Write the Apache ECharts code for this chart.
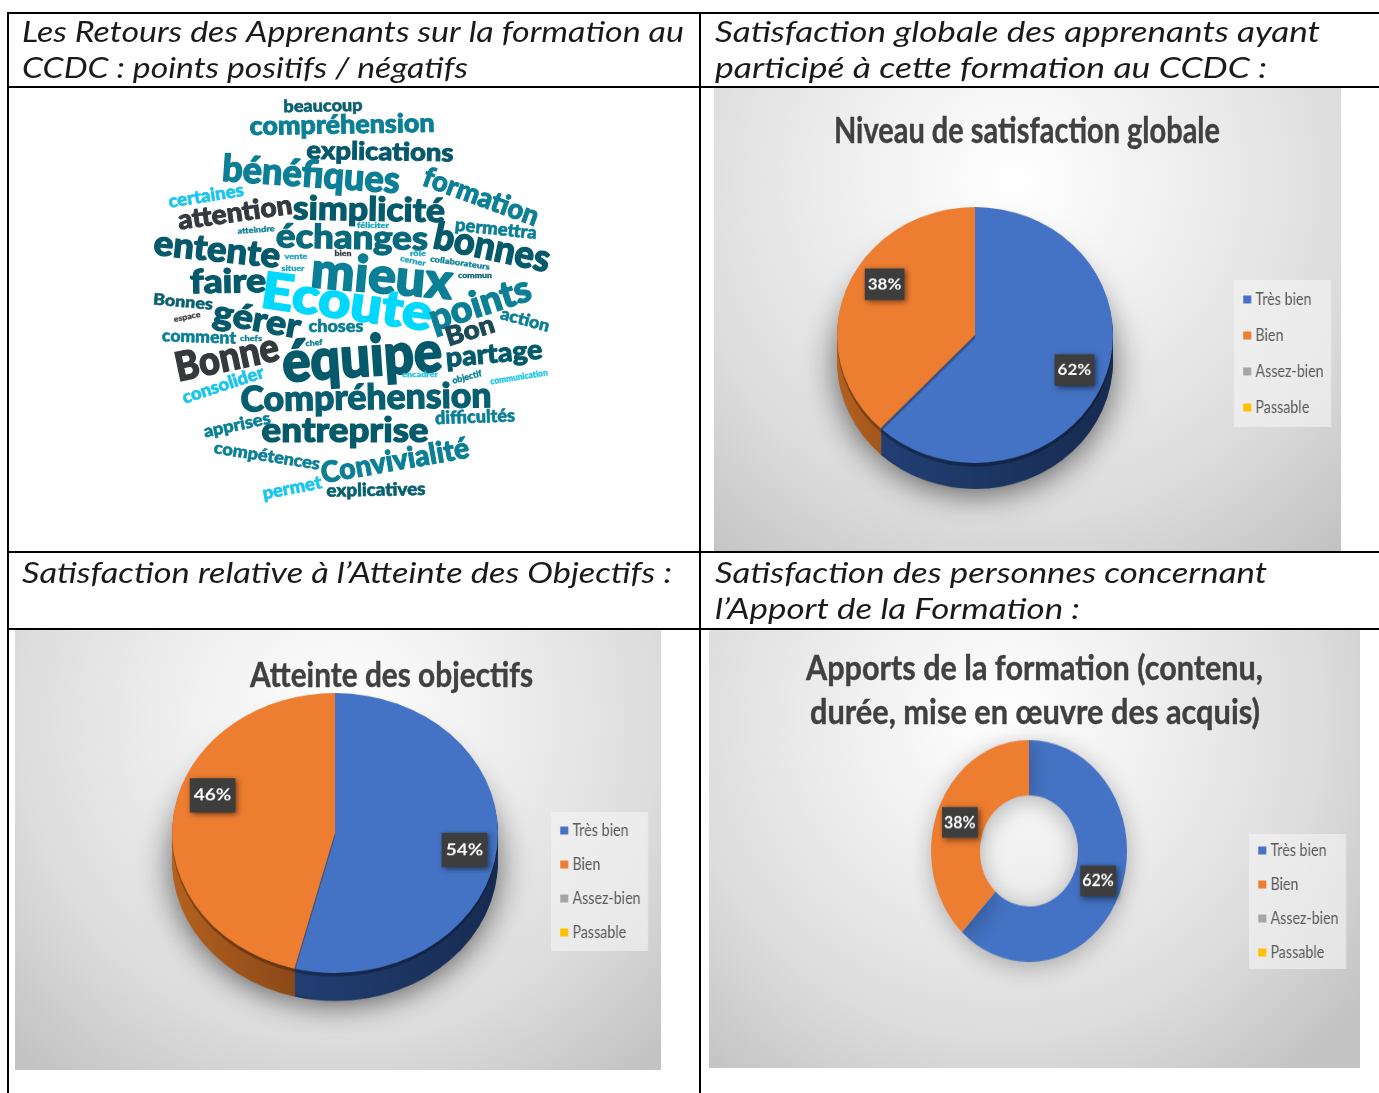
<!DOCTYPE html>
<html>
<head>
<meta charset="utf-8">
<title>Retours des apprenants</title>
<script src="https://cdn.jsdelivr.net/npm/echarts@6/dist/echarts.min.js"></script>
<style>
html, body { margin: 0; padding: 0; background: #fff; }
#page { position: relative; width: 1379px; height: 1093px; overflow: hidden; }
#main { position: absolute; left: 0; top: 0; width: 1379px; height: 1093px; }
#legends { position: absolute; left: 0; top: 0; height: 1093px; transform-origin: 0 0; }
.pie { position: absolute; }
</style>
</head>
<body>
<div id="page">
  <div id="main"></div>
  <div id="pieGlobal" class="pie"></div>
  <div id="pieObjectifs" class="pie"></div>
  <div id="pieApports" class="pie"></div>
  <div id="legends"></div>
</div>
<script>
// chart data
const categories = ['Très bien', 'Bien', 'Assez-bien', 'Passable'];
const globalValues = [62, 38, 0, 0];
const objectifsValues = [54, 46, 0, 0];
const apportsValues = [62, 38, 0, 0];
const colors = ['#4472c4', '#ed7d31', '#a5a5a5', '#ffc000'];

const headerTexts = [
  'Les Retours des Apprenants sur la formation au',
  'CCDC : points positifs / négatifs',
  'Satisfaction globale des apprenants ayant',
  'participé à cette formation au CCDC :',
  'Satisfaction relative à l’Atteinte des Objectifs :',
  'Satisfaction des personnes concernant',
  'l’Apport de la Formation :'
];
// x, y centre line, width
const headerLayout = [
  [22, 33, 662], [22, 69, 446], [715, 33, 605], [715, 69, 552],
  [22, 574, 650], [715, 574, 552], [715, 610, 365]
];

const titleTexts = [
  'Niveau de satisfaction globale',
  'Atteinte des objectifs',
  'Apports de la formation (contenu,',
  'durée, mise en œuvre des acquis)'
];
const titleLayout = [
  [834, 131, 386, 36], [250, 676, 283, 34], [806, 669, 457, 35], [810, 713, 450, 35]
];

const cloudWords = [
  'beaucoup', 'compréhension', 'explications', 'bénéfiques', 'formation', 'certaines',
  'attention', 'simplicité', 'permettra', 'échanges', 'atteindre', 'féliciter', 'bonnes',
  'entente', 'vente', 'bien', 'rôle', 'cerner', 'collaborateurs', 'commun', 'situer',
  'faire', 'mieux', 'Ecoute', 'points', 'action', 'Bonnes', 'espace', 'gérer', 'choses',
  'Bon', 'comment', 'chefs', 'chef', 'Bonne', 'équipe', 'partage', 'encadrer', 'objectif',
  'communication', 'consolider', 'Compréhension', 'difficultés', 'apprises', 'entreprise',
  'compétences', 'Convivialité', 'permet', 'explicatives'
];
// centre x, centre y, width, font size, degrees clockwise, colour
const D = '#045a6b', M = '#0a7f96', C = '#19c5ec', G = '#33393c', L = '#1ba3bd';
const cloudLayout = [
  [323, 106, 79, 17, -1, '#0a5f70'], [342, 125, 185, 26, -1, M], [380, 152, 147, 25, 1, '#05586a'],
  [311, 175, 178, 37, 4, M], [481, 197, 121, 28, 20, M], [206, 196, 76, 18, -9, C],
  [235, 213, 115, 27, -8, G], [369, 210, 152, 33, 1, D], [496, 229, 82, 18, 6, M],
  [352, 238, 152, 33, 1, '#086a7d'], [256, 230, 37, 8, -4, M], [373, 225, 32, 8, 0, L],
  [492, 248, 118, 38, 12, D], [217, 250, 127, 35, 6, D], [296, 256, 23, 8, 0, L],
  [343, 253, 17, 8, 0, G], [418, 253, 16, 8, 0, L], [413, 261, 26, 8, 12, L],
  [460, 263, 60, 8, 8, M], [475, 275, 34, 8, 0, '#0a6070'], [293, 268, 23, 8, 0, L],
  [228, 282, 76, 33, -1, D], [382, 277, 142, 50, 5, M], [347, 303, 172, 50, 8, '#00d8ff'],
  [480, 304, 105, 37, -18, M], [525, 320, 50, 17, 15, M], [183, 302, 60, 16, 5, '#0a5f70'],
  [187, 317, 27, 8, -12, '#444444'], [257, 320, 88, 34, 10, D], [336, 327, 55, 17, 0, M],
  [470, 331, 50, 26, -17, '#1b4a56'], [199, 337, 74, 17, 2, M], [251, 338, 22, 8, 0, M],
  [314, 343, 17, 8, -5, M], [227, 358, 105, 40, -12, G], [362, 358, 160, 57, -4, D],
  [494, 354, 97, 27, -5, D], [420, 374, 36, 8, 0, C], [467, 377, 30, 9, -15, M],
  [519, 377, 58, 9, -9, C], [223, 385, 85, 18, -18, C], [366, 398, 251, 35, -1, '#065f70'],
  [475, 417, 80, 18, -2, M], [237, 425, 68, 17, -12, M], [345, 431, 167, 34, 0, D],
  [267, 456, 107, 17, 9, M], [395, 461, 150, 29, -10, M], [292, 488, 60, 18, -11, C],
  [376, 490, 99, 18, -1, '#065f70']
];

const measure = document.createElement('canvas').getContext('2d');
function fitted(text, font, x, y, width, rot, fill, align, fatten) {
  measure.font = font;
  const style = { text: text, font: font, fill: fill, align: align, verticalAlign: 'middle' };
  if (fatten) {
    style.stroke = fill;
    style.lineWidth = fatten;
    style.lineJoin = 'round';
  }
  return {
    type: 'text', x: x, y: y, z: 3, silent: true,
    rotation: -(rot || 0) * Math.PI / 180,
    scaleX: width / measure.measureText(text).width,
    style: style
  };
}

function chartBg(x, y, w, h, cx, cy, r) {
  return {
    type: 'rect', z: 1, silent: true,
    shape: { x: x, y: y, width: w, height: h },
    style: {
      fill: new echarts.graphic.RadialGradient(cx, cy, r, [
        { offset: 0, color: '#ffffff' },
        { offset: 0.3, color: '#f1f1f1' },
        { offset: 0.7, color: '#dcdcdc' },
        { offset: 1, color: '#c3c3c3' }
      ])
    }
  };
}
function tableLine(x1, y1, x2, y2) {
  return {
    type: 'line', z: 2, silent: true,
    shape: { x1: x1, y1: y1, x2: x2, y2: y2 },
    style: { stroke: '#000', lineWidth: 2 }
  };
}

const graphics = [
  chartBg(714, 88, 627, 463, 0.48, 0.2, 1.05),
  chartBg(15, 630, 646, 440, 0.5, 0.2, 1.05),
  chartBg(709, 630, 651, 438, 0.45, 0.2, 1.05),
  tableLine(8, 13, 1379, 13), tableLine(8, 87, 1379, 87),
  tableLine(8, 552, 1379, 552), tableLine(8, 629, 1379, 629),
  tableLine(8, 12, 8, 1093), tableLine(700, 12, 700, 1093)
];
headerTexts.forEach((t, i) => {
  const h = headerLayout[i];
  graphics.push(fitted(t, 'italic 400 29px Lato', h[0], h[1], h[2], 0, '#1a1a1a', 'left'));
});
titleTexts.forEach((t, i) => {
  const h = titleLayout[i];
  graphics.push(fitted(t, 'bold ' + h[3] + 'px Lato', h[0], h[1], h[2], 0, '#404040', 'left', 0.4));
});
cloudWords.forEach((w, i) => {
  const c = cloudLayout[i];
  graphics.push(fitted(w, '900 ' + c[3] + 'px Lato', c[0], c[1], c[2], c[4], c[5], 'center', c[3] * 0.035));
});

let myChart = echarts.init(document.getElementById('main'));
myChart.setOption({ animation: false, graphic: graphics });

// legend text in the picture is condensed, so this layer is squeezed sideways
const legendSqueeze = 0.84;
const legendBox = document.getElementById('legends');
legendBox.style.width = (1379 / legendSqueeze) + 'px';
legendBox.style.transform = 'scaleX(' + legendSqueeze + ')';

function legendAt(left, top, gap, padV) {
  return {
    orient: 'vertical', left: left / legendSqueeze, top: top, icon: 'rect',
    itemWidth: 9.5, itemHeight: 8, itemGap: gap,
    padding: [padV, 9, padV, 11],
    backgroundColor: 'rgba(243,243,243,0.65)',
    selectedMode: false,
    data: categories,
    textStyle: { fontFamily: 'Lato', fontSize: 17, color: '#595959', height: 16, lineHeight: 16 }
  };
}
let legendChart = echarts.init(legendBox);
legendChart.setOption({
  animation: false,
  color: colors,
  legend: [legendAt(1234, 280, 19, 11), legendAt(551, 812, 17, 10), legendAt(1249, 834, 17, 8)],
  series: [{
    type: 'pie', silent: true, radius: [0, 0.01], center: [-50, -50],
    label: { show: false },
    data: categories.map((n, i) => ({ name: n, value: globalValues[i] }))
  }]
});

function sideGradient(a, b) {
  return new echarts.graphic.LinearGradient(0, 0, 1, 0, [
    { offset: 0, color: a }, { offset: 1, color: b }
  ]);
}

// elliptical pie: a round ECharts pie in a box squeezed with a css scale
function drawPie(id, values, o) {
  const pad = 70;
  const size = 2 * (o.rx + pad);
  const sy = o.ry / o.rx;
  const el = document.getElementById(id);
  el.style.width = size + 'px';
  el.style.height = size + 'px';
  el.style.left = (o.cx - size / 2) + 'px';
  el.style.top = (o.cy - size / 2) + 'px';
  el.style.transform = 'scale(1,' + sy + ')';

  const series = [];
  const names = categories.map((n, i) => ({ name: n, value: values[i] }));
  for (let d = o.depth; d > 0; d -= 2) {
    series.push({
      type: 'pie', silent: true, animation: false,
      radius: [o.inner, o.rx], center: [size / 2, size / 2 + d / sy],
      label: { show: false }, labelLine: { show: false },
      itemStyle: {
        color: p => p.dataIndex === 0 ? sideGradient('#223f74', '#172b50') : sideGradient('#b5611f', '#7c4016'),
        shadowBlur: d === o.depth ? 34 : 0,
        shadowColor: 'rgba(0,0,0,0.6)',
        shadowOffsetY: d === o.depth ? 5 : 0
      },
      data: names
    });
  }
  series.push({
    type: 'pie', silent: true, animation: false,
    radius: [o.inner, o.rx], center: [size / 2, size / 2],
    label: { show: false }, labelLine: { show: false },
    itemStyle: { shadowBlur: o.depth ? 0 : 22, shadowColor: 'rgba(0,0,0,0.28)', shadowOffsetY: 4 },
    data: names
  });
  // transparent ring that only carries the percent boxes
  series.push({
    type: 'pie', silent: true, animation: false,
    radius: [o.labelInner, o.rx], center: [size / 2, size / 2],
    itemStyle: { color: 'rgba(0,0,0,0)' },
    labelLine: { show: false },
    labelLayout: p => {
      const off = o.labelShift[p.dataIndex];
      return off ? { dx: off[0], dy: off[1] } : {};
    },
    label: {
      position: 'inside', formatter: '{d}%',
      fontFamily: 'Lato', fontWeight: 'bold', fontSize: o.labelFont, color: '#fff',
      backgroundColor: '#3d3d3d', padding: o.labelPad,
      shadowColor: 'rgba(0,0,0,0.55)', shadowBlur: 6, shadowOffsetX: 2, shadowOffsetY: 2
    },
    data: names.map(n => n.value > 0 ? n : { name: n.name, value: 0, label: { show: false } })
  });

  const chart = echarts.init(el);
  chart.setOption({ animation: false, color: colors, series: series });
}

drawPie('pieGlobal', globalValues, {
  cx: 975, cy: 335, rx: 138, ry: 128, depth: 26, inner: 0, labelInner: 72,
  labelFont: 17, labelPad: [9, 3, 8, 3],
  labelShift: [[-1, -2], [10, -15]]
});
drawPie('pieObjectifs', objectifsValues, {
  cx: 335, cy: 833, rx: 163, ry: 140, depth: 28, inner: 0, labelInner: 98,
  labelFont: 19, labelPad: [11, 4, 10, 4],
  labelShift: [[-3, 3], [10, -27]]
});
drawPie('pieApports', apportsValues, {
  cx: 1029, cy: 851, rx: 98, ry: 111, depth: 0, inner: 49, labelInner: 49,
  labelFont: 16, labelPad: [6, 2, 5, 2],
  labelShift: [[-2, -2], [2, 3]]
});
</script>
</body>
</html>
